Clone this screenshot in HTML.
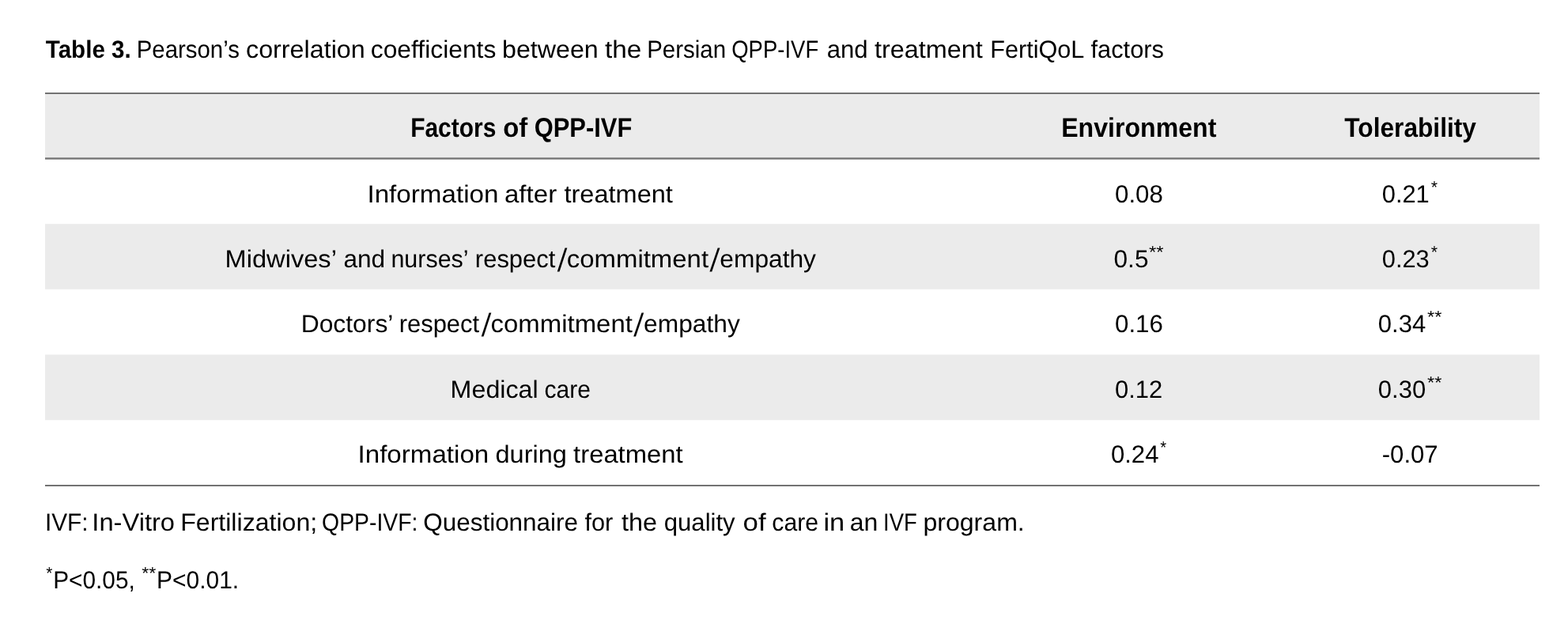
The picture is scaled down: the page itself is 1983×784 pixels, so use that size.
<!DOCTYPE html>
<html lang="en"><head><meta charset="utf-8"><title>Table 3</title><style>
html,body{margin:0;padding:0;background:#fff;}
body{width:1983px;height:784px;position:relative;overflow:hidden;font-family:"Liberation Sans",sans-serif;color:#000;text-rendering:geometricPrecision;}
.page{position:absolute;left:0;top:0;width:1983px;height:784px;}
.rule{position:absolute;left:57px;width:1890px;background:#727272;}
.band{position:absolute;left:57px;width:1890px;background:#ebebeb;}
table,thead,tbody,tr,th,td,caption,p{display:block;margin:0;padding:0;border:0;font-weight:normal;}
span,sup{position:absolute;left:0;top:0;white-space:pre;line-height:0;transform-origin:0 0;vertical-align:baseline;}
.r{font-size:31.1px;}
.tb{font-size:31.1px;font-weight:bold;}
.b{font-size:34.3px;font-weight:bold;}
.s{font-size:21.5px;}
.sl{font-size:40.7px;}
</style></head><body>
<div class="page">
<div class="band" style="top:118px;height:83px"></div>
<div class="band" style="top:283px;height:83px;background:linear-gradient(#efefef 0 1px,#ebebeb 1px 82px,#efefef 82px 83px)"></div>
<div class="band" style="top:448px;height:84px;background:linear-gradient(#f4f4f4 0 1px,#ebebeb 1px 83px,#fafafa 83px 84px)"></div>
<div class="rule" style="top:117px;height:2px"></div>
<div class="rule" style="top:199px;height:3px;background:linear-gradient(#989898 0 1px,#727272 1px 2px,#a8a8a8 2px 3px)"></div>
<div class="rule" style="top:613px;height:2px"></div>
<table>
<caption><span class="tb" style="transform:translate(57.80px,63.00px) scaleX(0.9511)">Table 3.</span> <span class="r" style="transform:translate(172.70px,63.00px) scaleX(0.9454)">Pearson’s</span> <span class="r" style="transform:translate(310.99px,63.00px) scaleX(1.0387)">correlation</span> <span class="r" style="transform:translate(468.71px,63.00px) scaleX(1.0237)">coefficients</span> <span class="r" style="transform:translate(634.99px,63.00px) scaleX(1.0361)">between</span> <span class="r" style="transform:translate(765.00px,63.00px) scaleX(1.0721)">the</span> <span class="r" style="transform:translate(818.20px,63.00px) scaleX(0.9479)">Persian</span> <span class="r" style="transform:translate(925.21px,63.00px) scaleX(0.8840)">QPP-IVF</span> <span class="r" style="transform:translate(1045.63px,63.00px) scaleX(1.0006)">and</span> <span class="r" style="transform:translate(1106.00px,63.00px) scaleX(1.0420)">treatment</span> <span class="r" style="transform:translate(1252.31px,63.00px) scaleX(0.9840)">FertiQoL</span> <span class="r" style="transform:translate(1379.50px,63.00px) scaleX(0.9907)">factors</span></caption>
<thead><tr><th><span class="b" style="transform:translate(519.13px,162.00px) scaleX(0.8740)">Factors</span> <span class="b" style="transform:translate(636.27px,162.00px) scaleX(0.9567)">of</span> <span class="b" style="transform:translate(675.73px,162.00px) scaleX(0.9006)">QPP-IVF</span></th> <th><span class="b" style="transform:translate(1342.19px,162.00px) scaleX(0.9357)">Environment</span></th> <th><span class="b" style="transform:translate(1700.30px,162.00px) scaleX(0.9234)">Tolerability</span></th></tr></thead>
<tbody>
<tr><td><span class="r" style="transform:translate(464.41px,246.00px) scaleX(1.0674)">Information</span> <span class="r" style="transform:translate(637.97px,246.00px) scaleX(1.0637)">after</span> <span class="r" style="transform:translate(713.40px,246.00px) scaleX(1.0466)">treatment</span></td> <td><span class="r" style="transform:translate(1410.02px,246.00px) scaleX(1.0052)">0.08</span></td> <td><span class="r" style="transform:translate(1747.74px,246.00px) scaleX(0.9915)">0.21</span><sup class="s" style="transform:translate(1809.67px,237.00px) scaleX(0.9966)">*</sup></td></tr>
<tr><td><span class="r" style="transform:translate(284.55px,328.00px) scaleX(1.0490)">Midwives’</span> <span class="r" style="transform:translate(434.41px,328.00px) scaleX(1.0169)">and</span> <span class="r" style="transform:translate(494.40px,328.00px) scaleX(0.9799)">nurses’</span> <span class="r" style="transform:translate(600.86px,328.00px) scaleX(0.9955)">respect</span><span class="sl" style="transform:translate(706.08px,329.00px) skewX(-5.00deg) scaleX(0.8850)">/</span><span class="r" style="transform:translate(716.77px,328.00px) scaleX(1.0589)">commitment</span><span class="sl" style="transform:translate(898.87px,329.00px) skewX(-5.74deg) scaleX(0.8850)">/</span><span class="r" style="transform:translate(910.31px,328.00px) scaleX(1.0202)">empathy</span></td> <td><span class="r" style="transform:translate(1408.51px,328.00px) scaleX(1.0170)">0.5</span><sup class="s" style="transform:translate(1452.92px,319.00px) scaleX(1.1185)">**</sup></td> <td><span class="r" style="transform:translate(1747.74px,328.00px) scaleX(0.9915)">0.23</span><sup class="s" style="transform:translate(1809.67px,319.00px) scaleX(0.9966)">*</sup></td></tr>
<tr><td><span class="r" style="transform:translate(380.71px,410.00px) scaleX(1.0230)">Doctors’</span> <span class="r" style="transform:translate(504.66px,410.00px) scaleX(0.9955)">respect</span><span class="sl" style="transform:translate(609.88px,411.00px) skewX(-5.00deg) scaleX(0.8850)">/</span><span class="r" style="transform:translate(620.57px,410.00px) scaleX(1.0589)">commitment</span><span class="sl" style="transform:translate(802.67px,411.00px) skewX(-5.74deg) scaleX(0.8850)">/</span><span class="r" style="transform:translate(814.11px,410.00px) scaleX(1.0202)">empathy</span></td> <td><span class="r" style="transform:translate(1410.02px,410.00px) scaleX(1.0052)">0.16</span></td> <td><span class="r" style="transform:translate(1742.83px,410.00px) scaleX(0.9969)">0.34</span><sup class="s" style="transform:translate(1804.93px,401.00px) scaleX(1.0998)">**</sup></td></tr>
<tr><td><span class="r" style="transform:translate(569.58px,493.00px) scaleX(1.0372)">Medical</span> <span class="r" style="transform:translate(688.56px,493.00px) scaleX(0.9645)">care</span></td> <td><span class="r" style="transform:translate(1410.03px,493.00px) scaleX(0.9949)">0.12</span></td> <td><span class="r" style="transform:translate(1742.83px,493.00px) scaleX(0.9969)">0.30</span><sup class="s" style="transform:translate(1804.93px,484.00px) scaleX(1.0998)">**</sup></td></tr>
<tr><td><span class="r" style="transform:translate(452.51px,575.00px) scaleX(1.0654)">Information</span> <span class="r" style="transform:translate(626.48px,575.00px) scaleX(1.0462)">during</span> <span class="r" style="transform:translate(725.10px,575.00px) scaleX(1.0549)">treatment</span></td> <td><span class="r" style="transform:translate(1404.93px,575.00px) scaleX(1.0003)">0.24</span><sup class="s" style="transform:translate(1467.28px,566.00px) scaleX(0.9448)">*</sup></td> <td><span class="r" style="transform:translate(1747.73px,575.00px) scaleX(1.0007)">-0.07</span></td></tr>
</tbody>
</table>
<p><span class="r" style="transform:translate(56.97px,661.00px) scaleX(0.9578)">IVF:</span> <span class="r" style="transform:translate(116.35px,661.00px) scaleX(1.0501)">In-Vitro</span> <span class="r" style="transform:translate(228.19px,661.00px) scaleX(1.0320)">Fertilization;</span> <span class="r" style="transform:translate(407.07px,661.00px) scaleX(0.9123)">QPP-IVF:</span> <span class="r" style="transform:translate(535.23px,661.00px) scaleX(1.0115)">Questionnaire</span> <span class="r" style="transform:translate(739.50px,661.00px) scaleX(0.9878)">for</span> <span class="r" style="transform:translate(785.90px,661.00px) scaleX(1.0411)">the</span> <span class="r" style="transform:translate(839.73px,661.00px) scaleX(1.0008)">quality</span> <span class="r" style="transform:translate(939.61px,661.00px) scaleX(1.1208)">of</span> <span class="r" style="transform:translate(976.36px,661.00px) scaleX(0.9714)">care</span> <span class="r" style="transform:translate(1041.45px,661.00px) scaleX(1.1065)">in</span> <span class="r" style="transform:translate(1074.80px,661.00px) scaleX(1.0290)">an</span> <span class="r" style="transform:translate(1117.06px,661.00px) scaleX(0.8813)">IVF</span> <span class="r" style="transform:translate(1167.39px,661.00px) scaleX(1.0318)">program.</span></p>
<p><sup class="s" style="transform:translate(58.17px,725.00px) scaleX(0.9707)">*</sup><span class="r" style="transform:translate(67.17px,734.00px) scaleX(0.9591)">P&lt;0.05,</span> <sup class="s" style="transform:translate(179.13px,725.00px) scaleX(1.0874)">**</sup><span class="r" style="transform:translate(198.06px,734.00px) scaleX(0.9637)">P&lt;0.01.</span></p>
</div>
</body></html>
